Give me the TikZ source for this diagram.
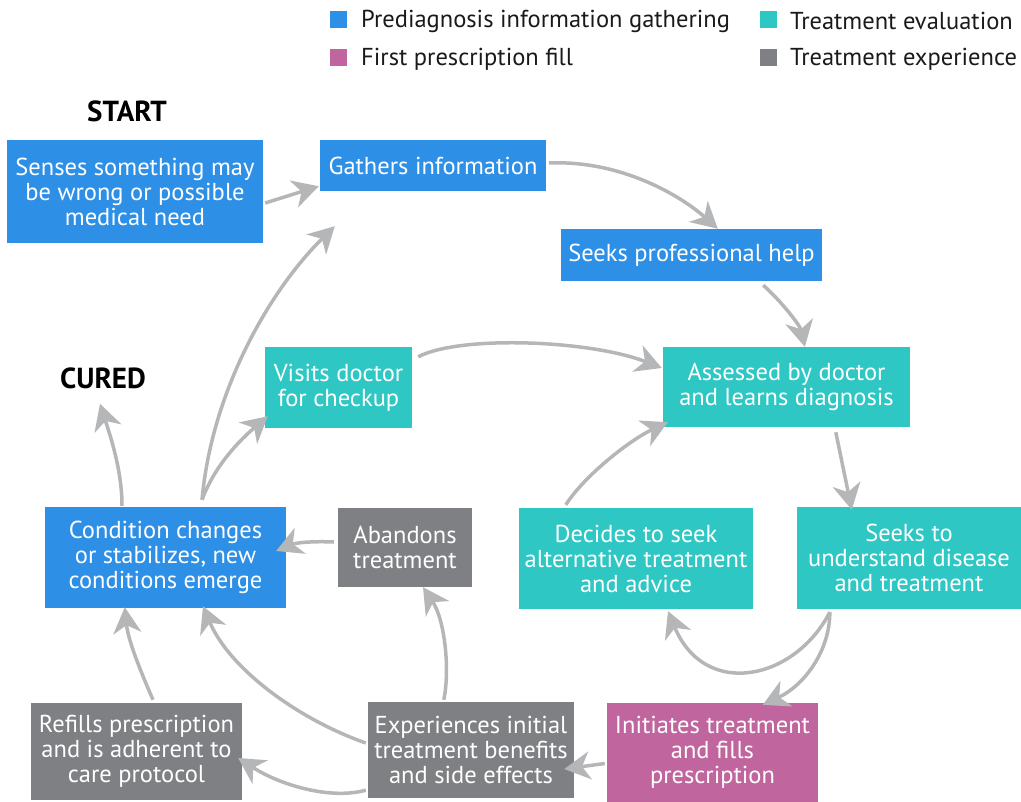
\documentclass[tikz,border=0pt]{standalone}
\usepackage{fontspec}
\setmainfont{PT Sans}
\usetikzlibrary{arrows.meta,calc}
\definecolor{cblue}{HTML}{2D8FE6}
\definecolor{cteal}{HTML}{2EC7C4}
\definecolor{cmag}{HTML}{C0659D}
\definecolor{cgray}{HTML}{7F8083}
\definecolor{carrow}{HTML}{B5B6B8}
\definecolor{ctext}{HTML}{1A1A1A}
\begin{document}
\begin{tikzpicture}[x=1pt,y=-1pt,
  box/.style={rectangle, inner sep=0pt, align=center, text=white,
    font=\fontsize{24.5}{25}\selectfont},
  conn/.style={draw=carrow, line width=3.5pt,
    -{Stealth[length=26pt,width=28pt,inset=8pt]}},
  legsq/.style={rectangle, inner sep=0pt, minimum size=17pt},
  legtxt/.style={anchor=west, inner sep=0pt, text=ctext,
    font=\fontsize{24.5}{26}\selectfont},
  lbl/.style={inner sep=0pt, text=black, font=\fontsize{29}{30}\selectfont\bfseries}]
\useasboundingbox (0,0) rectangle (1021,802);
% legend
\node[legsq, fill=cblue] (l1) at (338,20) {};
\node[legtxt] (t1) at (361,21) {Prediagnosis information gathering};
\node[legsq, fill=cmag] (l2) at (338,58) {};
\node[legtxt] (t2) at (361,59) {First prescription fill};
\node[legsq, fill=cteal] (l3) at (768,20) {};
\node[legtxt] (t3) at (790,21) {Treatment evaluation};
\node[legsq, fill=cgray] (l4) at (768,58) {};
\node[legtxt] (t4) at (790,59) {Treatment experience};
% labels
\node[lbl] (start) at (127,111) {START};
\node[lbl] (cured) at (103,378) {CURED};
% boxes
\node[box, fill=cblue, minimum width=256pt, minimum height=103pt] (sense) at (135,191.5) {Senses something may\\be wrong or possible\\medical need};
\node[box, fill=cblue, minimum width=226pt, minimum height=51pt] (gather) at (433,165.5) {Gathers information};
\node[box, fill=cblue, minimum width=261pt, minimum height=52pt] (seek) at (691.5,255) {Seeks professional help};
\node[box, fill=cteal, minimum width=247pt, minimum height=80pt] (assessed) at (786.5,387) {Assessed by doctor\\and learns diagnosis};
\node[box, fill=cteal, minimum width=147pt, minimum height=81pt] (visits) at (338.5,387.5) {Visits doctor\\for checkup};
\node[box, fill=cblue, minimum width=241pt, minimum height=101pt] (cond) at (165.5,557.5) {Condition changes\\or stabilizes, new\\conditions emerge};
\node[box, fill=cgray, minimum width=134pt, minimum height=79pt] (aband) at (405,547.5) {Abandons\\treatment};
\node[box, fill=cteal, minimum width=234pt, minimum height=101pt] (decides) at (636,558.5) {Decides to seek\\alternative treatment\\and advice};
\node[box, fill=cteal, minimum width=224pt, minimum height=102pt] (underst) at (909,558) {Seeks to\\understand disease\\and treatment};
\node[box, fill=cgray, minimum width=211pt, minimum height=97pt] (refills) at (136.5,751.5) {Refills prescription\\and is adherent to\\care protocol};
\node[box, fill=cgray, minimum width=206pt, minimum height=96pt] (exper) at (471,750) {Experiences initial\\treatment benefits\\and side effects};
\node[box, fill=cmag, minimum width=211pt, minimum height=99pt] (init) at (712.5,752.5) {Initiates treatment\\and fills\\prescription};
% connectors
\draw[conn] ($(sense.east)+(2,11.5)$) -- ($(gather.south west)+(-1,-5)$);
\draw[conn] ($(gather.east)+(3,-2.5)$) .. controls (620,160) and (680,195) .. ($(seek.north west)+(157,0)$);
\draw[conn] ($(seek.south east)+(-59,4)$) .. controls (780,300) and (800,325) .. ($(assessed.north west)+(142,0)$);
\draw[conn] ($(visits.north east)+(6,10)$) .. controls (460,335) and (590,340) .. ($(assessed.west)+(-1,-19)$);
\draw[conn] ($(assessed.south west)+(173,5)$) -- ($(underst.north west)+(55,3)$);
\draw[conn] ($(decides.north west)+(47,-3)$) .. controls (585,475) and (630,440) .. ($(assessed.south west)+(5,-5)$);
\draw[conn] ($(underst.south west)+(33,3)$) .. controls (795,680) and (705,700) .. ($(decides.south)+(32,2)$);
\draw[conn] ($(underst.south west)+(33,3)$) .. controls (830,650) and (805,685) .. ($(init.north west)+(156,2)$);
\draw[conn] ($(init.west)+(-2,11)$) -- ($(exper.east)+(-10,19)$);
\draw[conn] ($(exper.south west)+(-2,-8)$) .. controls (330,800) and (280,785) .. ($(refills.east)+(-4,6.5)$);
\draw[conn] ($(exper.west)+(-2,-7)$) .. controls (300,720) and (230,670) .. ($(cond.south)+(37.5,-2)$);
\draw[conn] ($(exper.north west)+(76,-2)$) .. controls (450,670) and (445,620) .. ($(aband.south)+(18,0)$);
\draw[conn] ($(refills.north)+(16.5,-3)$) .. controls (140,670) and (128,640) .. ($(cond.south west)+(80,-1)$);
\draw[conn] ($(aband.west)+(-4,-5.5)$) .. controls (310,541) and (295,543) .. ($(cond.east)+(-10,-6.5)$);
\draw[conn] ($(cond.north)+(-43.5,-1)$) .. controls (122,470) and (110,435) .. ($(cured.south)+(-3,15)$);
\draw[conn] ($(cond.north)+(36.5,-7)$) .. controls (215,465) and (240,440) .. ($(visits.south west)+(3,-12)$);
\draw[conn] ($(cond.north)+(36.5,-7)$) .. controls (212,390) and (270,290) .. ($(gather.south west)+(15,35)$);
\end{tikzpicture}
\end{document}
